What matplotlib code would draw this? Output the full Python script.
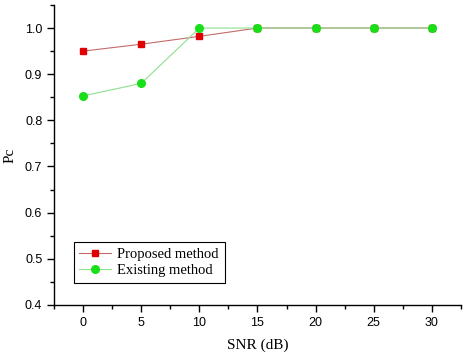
import matplotlib
matplotlib.use("Agg")
import matplotlib.pyplot as plt
from matplotlib.ticker import MultipleLocator

snr = [0, 5, 10, 15, 20, 25, 30]
proposed = [0.950, 0.965, 0.982, 1.0, 1.0, 1.0, 1.0]
existing = [0.853, 0.880, 1.0, 1.0, 1.0, 1.0, 1.0]

SERIF = ["Liberation Serif", "DejaVu Serif"]
SANS = ["Liberation Sans", "DejaVu Sans"]

fig = plt.figure(figsize=(4.66, 3.55), dpi=100)
ax = fig.add_axes([0.116, 0.141, 0.873, 0.845])

ax.plot(snr, proposed, color="#c46a6a", lw=0.8, marker="s", ms=5,
        mfc="#e00000", mec="#e00000", label="Proposed method")
ax.plot(snr, existing, color="#8ee08e", lw=0.8, marker="o", ms=5.5,
        mfc="#18e018", mec="#18e018", label="Existing method")

ax.set_xlim(-2.5, 32.5)
ax.set_ylim(0.4, 1.05)
ax.xaxis.set_major_locator(MultipleLocator(5))
ax.xaxis.set_minor_locator(MultipleLocator(2.5))
ax.yaxis.set_major_locator(MultipleLocator(0.1))
ax.yaxis.set_minor_locator(MultipleLocator(0.05))
ax.yaxis.set_major_formatter(matplotlib.ticker.FormatStrFormatter("%.1f"))

for s in ["top", "right"]:
    ax.spines[s].set_visible(False)
for s in ["left", "bottom"]:
    ax.spines[s].set_linewidth(1.0)

ax.tick_params(which="major", length=5, width=1.0, labelsize=9)
ax.tick_params(which="minor", length=3, width=1.0)
for lab in ax.get_xticklabels() + ax.get_yticklabels():
    lab.set_family(SANS)

ax.set_xlabel("SNR (dB)", family=SERIF, fontsize=11, labelpad=7)
ax.set_ylabel("Pc", family=SERIF, fontsize=11, labelpad=6)

leg = ax.legend(loc="lower left", bbox_to_anchor=(0.03, 0.048),
                prop={"family": SERIF, "size": 10.5}, fancybox=False,
                edgecolor="black", framealpha=1, handlelength=2.2,
                borderpad=0.4, labelspacing=0.2, handletextpad=0.4)
leg.get_frame().set_linewidth(0.8)

fig.savefig("out.png", dpi=100)
